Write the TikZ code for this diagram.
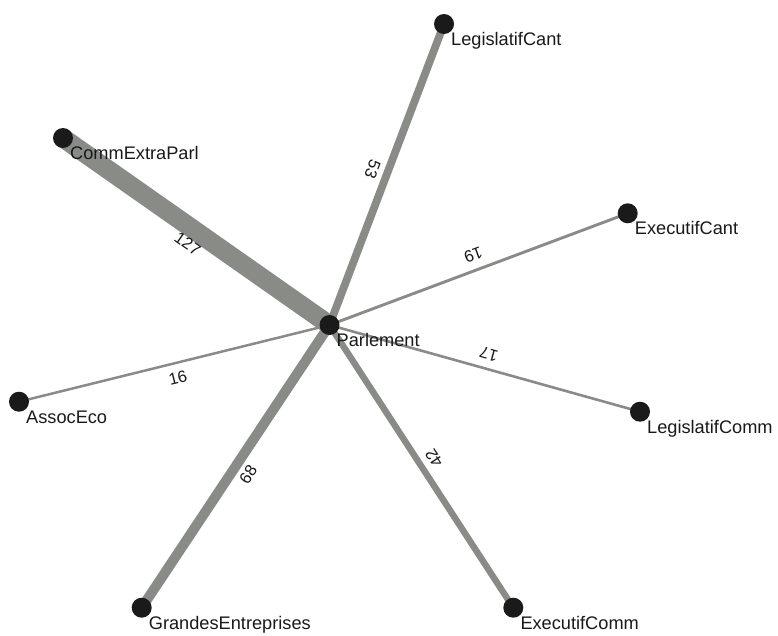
\documentclass[tikz,border=0pt]{standalone}
\usepackage{fontspec}
\setmainfont{Liberation Sans}
\begin{document}
\begin{tikzpicture}[x=1pt,y=-1pt,
  dot/.style={circle,fill=dotcol,draw=none,minimum size=20pt,inner sep=0pt},
  nlab/.style={anchor=base west,inner sep=0pt,font=\fontsize{18.2}{20}\selectfont,text=black!90},
  elab/.style={midway,sloped,allow upside down,below=9pt,inner sep=0pt,font=\fontsize{16.5}{18}\selectfont,text=black!90},
  edge/.style={draw=edgecol,line cap=butt}]
\definecolor{edgecol}{RGB}{137,139,135}
\definecolor{dotcol}{RGB}{26,26,26}
\useasboundingbox (0,0) rectangle (778,635);
% node positions
\coordinate (cP) at (329.5,325);
\coordinate (cLC) at (444,24);
\coordinate (cCE) at (63,138);
\coordinate (cEC) at (627.7,213.3);
\coordinate (cAE) at (19,401.7);
\coordinate (cLCo) at (640,411.7);
\coordinate (cGE) at (141.7,607.7);
\coordinate (cECo) at (513.3,607.7);
% edges
\draw[edge,line width=19pt] (cCE) -- (cP);
\draw[edge,line width=7.8pt] (cLC) -- (cP);
\draw[edge,line width=10pt] (cGE) -- (cP);
\draw[edge,line width=6.4pt] (cECo) -- (cP);
\draw[edge,line width=2.9pt] (cEC) -- (cP);
\draw[edge,line width=2.6pt] (cLCo) -- (cP);
\draw[edge,line width=2.5pt] (cAE) -- (cP);
% nodes
\node[dot] (LC) at (cLC) {};
\node[dot] (CE) at (cCE) {};
\node[dot] (EC) at (cEC) {};
\node[dot] (AE) at (cAE) {};
\node[dot] (LCo) at (cLCo) {};
\node[dot] (GE) at (cGE) {};
\node[dot] (ECo) at (cECo) {};
\node[dot] (P) at (cP) {};
% edge labels
\path (CE.center) -- node[elab] (l127) {127} (P.center);
\path (LC.center) -- node[elab] (l53) {53} (P.center);
\path (EC.center) -- node[elab] (l19) {19} (P.center);
\path (AE.center) -- node[elab] (l16) {16} (P.center);
\path (LCo.center) -- node[elab] (l17) {17} (P.center);
\path (GE.center) -- node[elab] (l68) {68} (P.center);
\path (ECo.center) -- node[elab] (l42) {42} (P.center);
% node labels
\node[nlab] (tP) at ([shift={(7,21.5)}]P.center) {Parlement};
\node[nlab] (tLC) at ([shift={(7,21.5)}]LC.center) {LegislatifCant};
\node[nlab] (tCE) at ([shift={(7,21.5)}]CE.center) {CommExtraParl};
\node[nlab] (tEC) at ([shift={(7,21.5)}]EC.center) {ExecutifCant};
\node[nlab] (tAE) at ([shift={(7,21.5)}]AE.center) {AssocEco};
\node[nlab] (tLCo) at ([shift={(7,21.5)}]LCo.center) {LegislatifComm};
\node[nlab] (tGE) at ([shift={(7,21.5)}]GE.center) {GrandesEntreprises};
\node[nlab] (tECo) at ([shift={(7,21.5)}]ECo.center) {ExecutifComm};
\end{tikzpicture}
\end{document}
